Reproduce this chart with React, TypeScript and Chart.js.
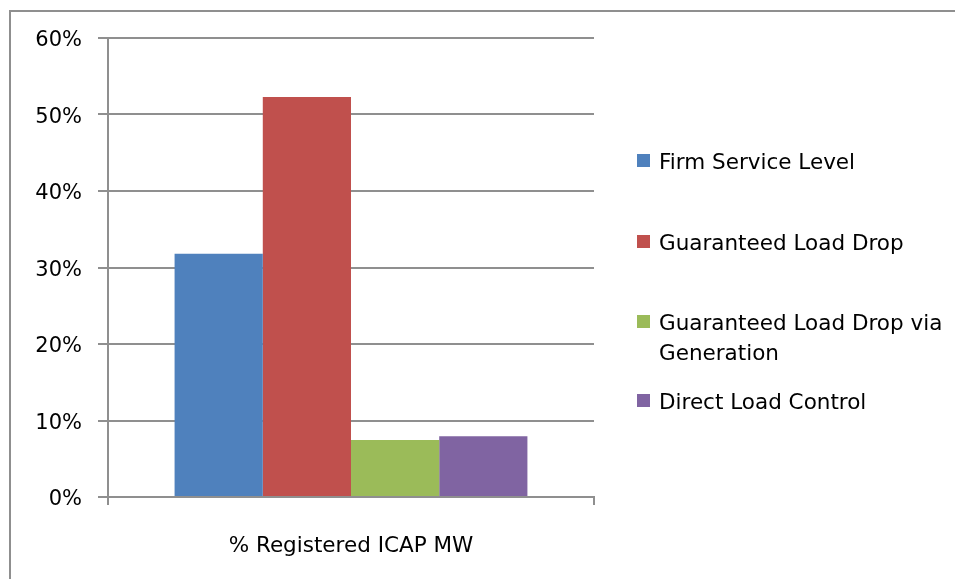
import React, { useEffect, useRef } from "react";
import { Chart, registerables } from "chart.js";

Chart.register(...registerables);

const categories = ["% Registered ICAP MW"];
const seriesNames = [
  "Firm Service Level",
  "Guaranteed Load Drop",
  "Guaranteed Load Drop via Generation",
  "Direct Load Control",
];
const legendLines = [
  ["Firm Service Level"],
  ["Guaranteed Load Drop"],
  ["Guaranteed Load Drop via", "Generation"],
  ["Direct Load Control"],
];
const firmService = [31.8];
const guaranteedLoadDrop = [52.3];
const guaranteedViaGeneration = [7.45];
const directLoadControl = [7.95];
const seriesColors = ["#4F81BD", "#C0504D", "#9BBB59", "#8064A2"];
const yTicks = [0, 10, 20, 30, 40, 50, 60];

const FONT = "'DejaVu Sans', sans-serif";
const GRID = "#8f8f8f";

export default function App() {
  const ref = useRef<HTMLCanvasElement | null>(null);

  useEffect(() => {
    if (!ref.current) return;
    const values = [firmService, guaranteedLoadDrop, guaranteedViaGeneration, directLoadControl];
    const chart = new Chart(ref.current, {
      type: "bar",
      data: {
        labels: categories,
        datasets: seriesNames.map((name, i) => ({
          label: name,
          data: values[i],
          backgroundColor: seriesColors[i],
          borderWidth: 0,
          categoryPercentage: 0.726,
          barPercentage: 1,
        })),
      },
      options: {
        responsive: false,
        animation: false,
        devicePixelRatio: 1,
        layout: { padding: { left: 0, right: 361, top: 38, bottom: 0 } },
        plugins: { legend: { display: false }, tooltip: { enabled: false } },
        scales: {
          x: {
            grid: {
              drawOnChartArea: false,
              offset: true,
              tickLength: 8,
              color: GRID,
              lineWidth: 2,
            },
            border: { display: true, color: GRID, width: 2 },
            ticks: {
              font: { family: FONT, size: 21.5 },
              color: "#000",
              padding: 29,
            },
            afterFit: (s: any) => {
              s.height = 82;
            },
          },
          y: {
            min: 0,
            max: 60,
            afterBuildTicks: (s: any) => {
              s.ticks = yTicks.map((v) => ({ value: v }));
            },
            grid: { color: GRID, lineWidth: 2, tickLength: 10 },
            border: { display: true, color: GRID, width: 2 },
            ticks: {
              font: { family: FONT, size: 21 },
              color: "#000",
              padding: 16,
              labelOffset: 3,
              callback: (v: any) => `${v}%`,
            },
            afterFit: (s: any) => {
              s.width = 108;
            },
          },
        },
      },
    });
    return () => chart.destroy();
  }, []);

  const legendTops = [147, 228, 308, 387];

  return (
    <div
      style={{
        position: "absolute",
        left: 0,
        top: 0,
        width: 955,
        height: 579,
        overflow: "hidden",
        background: "#fff",
      }}
    >
      <div
        style={{
          position: "absolute",
          left: 9,
          top: 10,
          width: 1200,
          height: 1200,
          borderLeft: `2px solid ${GRID}`,
          borderTop: `2px solid ${GRID}`,
        }}
      />
      <canvas ref={ref} width={955} height={579} style={{ position: "absolute", left: 0, top: 0 }} />
      {legendLines.map((lines, i) => (
        <div
          key={i}
          style={{
            position: "absolute",
            left: 637,
            top: legendTops[i],
            display: "flex",
            alignItems: "flex-start",
            fontFamily: FONT,
            fontSize: 21.5,
            lineHeight: "30px",
            color: "#000",
          }}
        >
          <div
            style={{
              width: 13,
              height: 13,
              background: seriesColors[i],
              marginTop: 7,
              marginRight: 9,
              flex: "none",
            }}
          />
          <div>
            {lines.map((l, j) => (
              <div key={j} style={{ whiteSpace: "nowrap" }}>
                {l}
              </div>
            ))}
          </div>
        </div>
      ))}
    </div>
  );
}
